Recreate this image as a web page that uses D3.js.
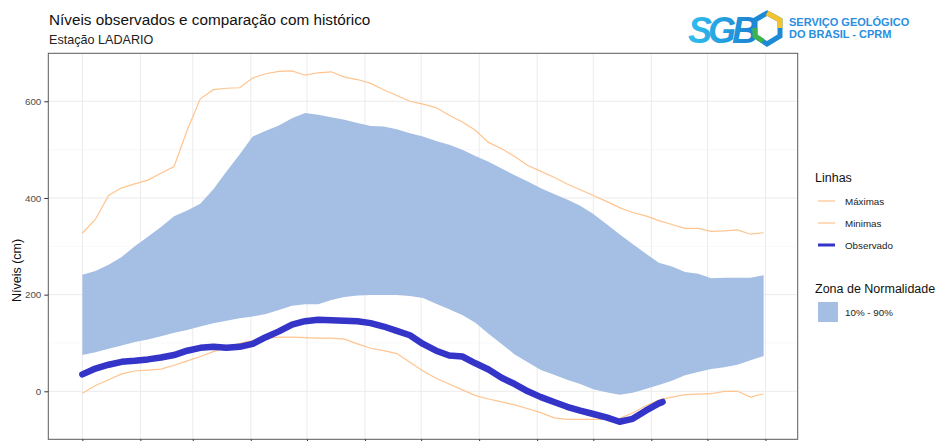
<!DOCTYPE html>
<html lang="pt">
<head>
<meta charset="utf-8">
<title>Níveis LADARIO</title>
<script src="https://cdn.jsdelivr.net/npm/d3@7"></script>
<style>
    body { margin: 0; background: #fff; }
    svg { font-family: "Liberation Sans", Arial, sans-serif; }
    .grid line { stroke: #ebebeb; }
    .grid .minor { stroke: #f3f3f3; stroke-width: 0.6; }
    .axis text { fill: #4d4d4d; font-size: 9.8px; }
    .axis line, .axis path { stroke: #333; }
</style>
</head>
<body>
<div id="chart"></div>
<script>
    /* global d3 */

    // dia do ano (a partir de 1 de janeiro), amostras semanais
    var dias = [0, 7, 14, 21, 28, 35, 42, 49, 56, 63, 70, 77, 84, 91, 98, 105, 112, 119, 126,
        133, 140, 147, 154, 161, 168, 175, 182, 189, 196, 203, 210, 217, 224, 231, 238, 245,
        252, 259, 266, 273, 280, 287, 294, 301, 308, 315, 322, 329, 336, 343, 350, 357, 364];

    var maximas = [327, 356, 405, 421, 429, 437, 451, 465, 540, 605, 624, 627, 628, 648, 657,
        662, 663, 654, 659, 661, 650, 645, 637, 624, 612, 600, 594, 587, 571, 557, 540, 515,
        502, 486, 467, 455, 443, 429, 417, 405, 393, 380, 370, 363, 353, 345, 337, 337, 331,
        332, 334, 325, 328];

    var minimas = [-4, 12, 24, 36, 42, 44, 46, 54, 63, 72, 82, 91, 99, 105, 110, 112, 112, 111,
        110, 110, 108, 98, 89, 84, 78, 60, 42, 27, 15, 3, -9, -16, -22, -28, -36, -44, -55,
        -58, -58, -58, -58, -56, -45, -30, -18, -12, -7, -6, -5, 0, 0, -12, -5];

    var p90 = [241, 249, 262, 278, 300, 320, 340, 362, 374, 388, 418, 455, 490, 527, 539, 550,
        565, 576, 572, 567, 562, 555, 549, 548, 542, 534, 527, 518, 510, 500, 487, 475, 461,
        447, 434, 420, 408, 397, 384, 367, 346, 325, 305, 285, 266, 258, 247, 243, 234, 235,
        235, 235, 240];

    var p10 = [75, 81, 88, 95, 102, 107, 114, 121, 127, 134, 141, 146, 151, 155, 160, 168, 177,
        180, 180, 189, 195, 198, 199, 199, 199, 197, 193, 181, 170, 158, 142, 119, 98, 76, 60,
        44, 34, 24, 15, 4, -2, -7, -3, 5, 13, 22, 33, 40, 46, 50, 55, 64, 73];

    var diasObs = [0, 7, 14, 21, 28, 35, 42, 49, 56, 63, 70, 77, 84, 91, 98, 105, 112, 119, 126,
        133, 140, 147, 154, 161, 168, 175, 182, 189, 196, 203, 210, 217, 224, 231, 238, 245,
        252, 259, 266, 273, 280, 287, 294, 301, 308, 310];
    var observado = [35, 47, 55, 61, 63, 66, 70, 75, 84, 90, 92, 90, 92, 98, 112, 124, 138, 145,
        148, 147, 146, 145, 141, 134, 125, 116, 98, 84, 74, 72, 58, 45, 28, 15, 0, -12, -22,
        -32, -40, -47, -54, -63, -57, -40, -25, -22];

    var yTicks = [0, 200, 400, 600];
    var yMinor = [-100, 100, 300, 500];

    var width = 941, height = 441;
    var margin = {top: 53.3, right: 143.3, bottom: 1.7, left: 48.3};
    var inicio = new Date(2023, 0, 1);
    function data(d) { return d3.timeDay.offset(inicio, d); }

    var svg = d3.select("#chart").append("svg")
        .attr("width", width)
        .attr("height", height);

    // escalas com expansao de 5% como no ggplot
    var xExt = [data(0), data(364)];
    var pad = (xExt[1] - xExt[0]) * 0.05;
    var x = d3.scaleTime()
        .domain([new Date(+xExt[0] - pad), new Date(+xExt[1] + pad)])
        .range([margin.left, width - margin.right]);

    var yLo = d3.min(minimas.concat(observado)), yHi = d3.max(maximas);
    var yPad = (yHi - yLo) * 0.05;
    var y = d3.scaleLinear()
        .domain([yLo - yPad, yHi + yPad])
        .range([height - margin.bottom, margin.top]);

    var meses = d3.timeMonth.range(data(0), d3.timeDay.offset(data(364), 2));

    // grade
    var grid = svg.append("g").attr("class", "grid");
    grid.selectAll("line.minor").data(yMinor).enter().append("line")
        .attr("class", "minor")
        .attr("x1", margin.left).attr("x2", width - margin.right)
        .attr("y1", function(d) { return y(d); })
        .attr("y2", function(d) { return y(d); });
    grid.selectAll("line.hy").data(yTicks).enter().append("line")
        .attr("class", "hy")
        .attr("x1", margin.left).attr("x2", width - margin.right)
        .attr("y1", function(d) { return y(d); })
        .attr("y2", function(d) { return y(d); });
    grid.selectAll("line.vx").data(meses).enter().append("line")
        .attr("class", "vx")
        .attr("y1", margin.top).attr("y2", height - margin.bottom)
        .attr("x1", function(d) { return x(d); })
        .attr("x2", function(d) { return x(d); });

    // zona de normalidade
    var banda = dias.map(function(d, i) { return {d: d, lo: p10[i], hi: p90[i]}; });
    svg.append("path")
        .datum(banda)
        .attr("fill", "#a5bee3")
        .attr("d", d3.area()
            .x(function(d) { return x(data(d.d)); })
            .y0(function(d) { return y(d.lo); })
            .y1(function(d) { return y(d.hi); }));

    var linha = d3.line()
        .x(function(d) { return x(data(d[0])); })
        .y(function(d) { return y(d[1]); });

    [maximas, minimas].forEach(function(serie) {
        svg.append("path")
            .datum(dias.map(function(d, i) { return [d, serie[i]]; }))
            .attr("fill", "none")
            .attr("stroke", "#ffc48f")
            .attr("stroke-width", 1.2)
            .attr("d", linha);
    });

    svg.append("path")
        .datum(diasObs.map(function(d, i) { return [d, observado[i]]; }))
        .attr("fill", "none")
        .attr("stroke", "#3434c8")
        .attr("stroke-width", 6.5)
        .attr("stroke-linecap", "round")
        .attr("stroke-linejoin", "round")
        .attr("d", linha);

    // moldura e eixos
    svg.append("rect")
        .attr("x", margin.left).attr("y", margin.top)
        .attr("width", width - margin.right - margin.left)
        .attr("height", height - margin.bottom - margin.top)
        .attr("fill", "none")
        .attr("stroke", "#5a5a5a")
        .attr("stroke-width", 1);

    svg.append("g")
        .attr("class", "axis")
        .attr("transform", "translate(" + margin.left + ",0)")
        .call(d3.axisLeft(y).tickValues(yTicks).tickSize(4).tickPadding(3))
        .call(function(g) { g.select(".domain").remove(); });

    svg.append("g")
        .attr("class", "axis")
        .attr("transform", "translate(0," + (height - margin.bottom) + ")")
        .call(d3.axisBottom(x).tickValues(meses).tickSize(4).tickFormat(""))
        .call(function(g) { g.select(".domain").remove(); });

    // titulos
    svg.append("text")
        .attr("x", 49).attr("y", 25)
        .attr("font-size", 15.3).attr("fill", "#111")
        .text("Níveis observados e comparação com histórico");
    svg.append("text")
        .attr("x", 49).attr("y", 44)
        .attr("font-size", 12.6).attr("fill", "#222")
        .text("Estação LADARIO");
    svg.append("text")
        .attr("transform", "translate(21," + y(250) + ") rotate(-90)")
        .attr("text-anchor", "middle")
        .attr("font-size", 12.5).attr("fill", "#111")
        .text("Níveis (cm)");

    // legenda
    var leg = svg.append("g").attr("transform", "translate(815,0)");
    leg.append("text").attr("x", 0).attr("y", 182)
        .attr("font-size", 12.5).attr("fill", "#111").text("Linhas");
    var itens = [
        {nome: "Máximas", cor: "#ffc48f", w: 1.2},
        {nome: "Minimas", cor: "#ffc48f", w: 1.2},
        {nome: "Observado", cor: "#3434c8", w: 3}
    ];
    itens.forEach(function(it, i) {
        var yy = 201 + i * 22;
        leg.append("line").attr("x1", 3).attr("x2", 20)
            .attr("y1", yy).attr("y2", yy)
            .attr("stroke", it.cor).attr("stroke-width", it.w);
        leg.append("text").attr("x", 30).attr("y", yy + 3.5)
            .attr("font-size", 9.8).attr("fill", "#222").text(it.nome);
    });
    leg.append("text").attr("x", 0).attr("y", 293)
        .attr("font-size", 12.5).attr("fill", "#111").text("Zona de Normalidade");
    leg.append("rect").attr("x", 3).attr("y", 302).attr("width", 20).attr("height", 20)
        .attr("fill", "#a5bee3");
    leg.append("text").attr("x", 30).attr("y", 315.5)
        .attr("font-size", 9.8).attr("fill", "#222").text("10% - 90%");

    // logo
    var logo = svg.append("g").attr("transform", "translate(688,0)");
    var grad = svg.append("defs").append("linearGradient")
        .attr("id", "sgb").attr("x1", 0).attr("x2", 1);
    grad.append("stop").attr("offset", 0).attr("stop-color", "#2fc0ee");
    grad.append("stop").attr("offset", 1).attr("stop-color", "#1b7fd0");
    logo.append("text").attr("x", 0).attr("y", 43)
        .attr("font-size", 36).attr("font-weight", "bold")
        .attr("font-style", "italic").attr("letter-spacing", -4)
        .attr("fill", "url(#sgb)").text("SGB");
    logo.append("path")
        .attr("d", "M79,13 L92,20 L92,36 L79,44 L67,36 L67,20 Z")
        .attr("fill", "none").attr("stroke", "#1d8ad6").attr("stroke-width", 5);
    logo.append("path")
        .attr("d", "M79,13 L92,20 L92,28")
        .attr("fill", "none").attr("stroke", "#f4c430").attr("stroke-width", 5);
    logo.append("path")
        .attr("d", "M67,28 L67,36 L75,41")
        .attr("fill", "none").attr("stroke", "#3cb44a").attr("stroke-width", 5);
    logo.append("text").attr("x", 101).attr("y", 26)
        .attr("font-size", 11).attr("font-weight", "bold").attr("fill", "#2a8ee0")
        .text("SERVIÇO GEOLÓGICO");
    logo.append("text").attr("x", 101).attr("y", 38)
        .attr("font-size", 11).attr("font-weight", "bold").attr("fill", "#2a8ee0")
        .text("DO BRASIL - CPRM");
</script>
</body>
</html>
